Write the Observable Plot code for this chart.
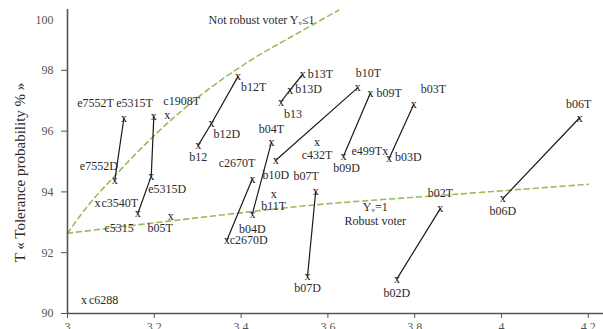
<!DOCTYPE html>
<html><head><meta charset="utf-8">
<script src="https://cdn.jsdelivr.net/npm/d3@7"></script>
<script src="https://cdn.jsdelivr.net/npm/@observablehq/plot@0.6"></script>
<style>body{margin:0;background:#fff}</style>
</head><body><div id="chart"></div>
<script>
// ---- data ----
const pointNames = ["e7552T","e7552D","e5315T","e5315D","c5315","c3540T","c1908T","b05T","c6288",
  "b12T","b12D","b12","b13T","b13D","b13","b10T","b10D","b09T","b09D","e499T","b03D","b03T",
  "b06T","b06D","c432T","b04T","b04D","c2670T","c2670D","b11T","b07T","b07D","b02T","b02D"];
const pointX = [3.130,3.109,3.199,3.193,3.162,3.069,3.230,3.238,3.038,
  3.393,3.332,3.301,3.542,3.513,3.492,3.669,3.480,3.698,3.636,3.732,3.741,3.798,
  4.180,4.003,3.575,3.470,3.426,3.426,3.367,3.475,3.572,3.553,3.859,3.759];
const pointY = [96.43,94.38,96.50,94.52,93.29,93.62,96.52,93.20,90.45,
  97.80,96.26,95.53,97.87,97.36,96.96,97.43,95.04,97.25,95.18,95.33,95.10,96.88,
  96.44,93.78,95.64,95.64,93.28,94.43,92.40,93.92,94.03,91.22,93.45,91.14];
const connections = [
  ["e7552D","e7552T"], ["c5315","e5315D","e5315T"], ["b12","b12D","b12T"], ["b13","b13D","b13T"],
  ["b10D","b10T"], ["b09D","b09T"], ["b03D","b03T"], ["b06D","b06T"], ["b04D","b04T"],
  ["c2670D","c2670T"], ["b07D","b07T"], ["b02D","b02T"]
];
const notRobustX = [3.000,3.050,3.104,3.198,3.307,3.422,3.538,3.625];
const notRobustY = [92.64,93.60,94.45,95.83,97.18,98.33,99.28,99.98];
const robustX = [3.000,3.307,3.538,3.884,4.200];
const robustY = [92.64,93.16,93.53,93.91,94.25];
const annotationText = ["Not robust voter Yᵥ≤1","Yᵥ=1","Robust voter"];
const annotationX = [3.325,3.709,3.709];
const annotationY = [99.65,93.49,93.03];
const xTicks = [3,3.2,3.4,3.6,3.8,4,4.2];
const yTicks = [90,92,94,96,98];
const yTopTick = [100];
const yLabel = "T « Tolerance probability % »";

// ---- label placement (style) : [textAnchor, dx, dy] per point ----
const labelPlacement = [
  ["end",-10,-15],["end",3,-14],["end",-1,-13],["start",-3,13],["end",-4,15],["start",4,0],["start",-4,-14],["end",2,12],["start",5,0],
  ["start",3,11],["start",2,11],["middle",0,12],["start",5,0],["start",5,-1],["start",3,12],["start",-2,-14],["middle",0,15],["start",6,0],["middle",3,12],["end",-3,0],["start",6,-1],["start",7,-15],
  ["middle",-1,-14],["middle",0,13],["middle",0,13],["middle",0,-13],["middle",0,15],["end",3,-16],["start",3,0],["middle",0,12],["end",3,-15],["middle",0,12],["middle",0,-15],["middle",0,14]
];

// ---- build ----
const points = pointNames.map((n,i) => ({name:n, x:pointX[i], y:pointY[i], anchor:labelPlacement[i][0], dx:labelPlacement[i][1], dy:labelPlacement[i][2]}));
const byName = new Map(points.map(p => [p.name, p]));
const lineData = connections.flatMap((g,gi) => g.map(n => ({g:gi, x:byName.get(n).x, y:byName.get(n).y})));
const notRobust = notRobustX.map((x,i) => ({x, y:notRobustY[i]}));
const robust = robustX.map((x,i) => ({x, y:robustY[i]}));
const annotations = annotationText.map((t,i) => ({t, x:annotationX[i], y:annotationY[i]}));

const textColor = "#2b2b2b";
const green = "#9bbb59";
const axisColor = "#555";
const fmt = d => String(+d.toFixed(1));

const labelMarks = points.map(p => Plot.text([p], {x:"x", y:"y", text:"name", textAnchor:p.anchor, dx:p.dx, dy:p.dy, fontSize:12, fill:textColor}));

const chart = Plot.plot({
  width: 603, height: 329,
  marginLeft: 67, marginRight: 0, marginTop: 9, marginBottom: 16,
  style: {fontFamily: "'Liberation Serif', 'Times New Roman', serif", background: "#fff"},
  x: {domain: [3, 4.235]},
  y: {domain: [90, 100]},
  marks: [
    Plot.line(notRobust, {x:"x", y:"y", curve:"monotone-x", stroke:green, strokeWidth:1.6, strokeDasharray:"5,4"}),
    Plot.line(robust, {x:"x", y:"y", curve:"monotone-x", stroke:green, strokeWidth:1.6, strokeDasharray:"5,4"}),
    Plot.line(lineData, {x:"x", y:"y", z:"g", stroke:"#1a1a1a", strokeWidth:1.2}),
    Plot.text(points, {x:"x", y:"y", text:() => "x", fontSize:12, fill:"#222"}),
    ...labelMarks,
    Plot.text(annotations.slice(0,1), {x:"x", y:"y", text:"t", textAnchor:"start", fontSize:12, fill:textColor}),
    Plot.text(annotations.slice(1), {x:"x", y:"y", text:"t", fontSize:12, fill:textColor}),
    Plot.ruleX([3], {stroke:axisColor, strokeWidth:1.6}),
    Plot.ruleY([90], {stroke:axisColor, strokeWidth:1.6}),
    Plot.axisX({ticks:xTicks, tickFormat:fmt, tickSize:5, tickPadding:4, fontSize:12, color:axisColor, label:null}),
    Plot.axisY({ticks:yTicks, tickSize:6, tickPadding:8, fontSize:12, color:axisColor, label:null}),
    Plot.axisY({ticks:yTopTick, tickSize:0, tickPadding:14, dy:11, fontSize:12, color:axisColor, label:null}),
    Plot.text([yLabel], {text:d => d, x:() => 3, y:() => 95, textAnchor:"middle", rotate:-90, dx:-47, dy:11, fontSize:15, fill:textColor})
  ]
});
document.getElementById("chart").appendChild(chart);
</script>
</body></html>
